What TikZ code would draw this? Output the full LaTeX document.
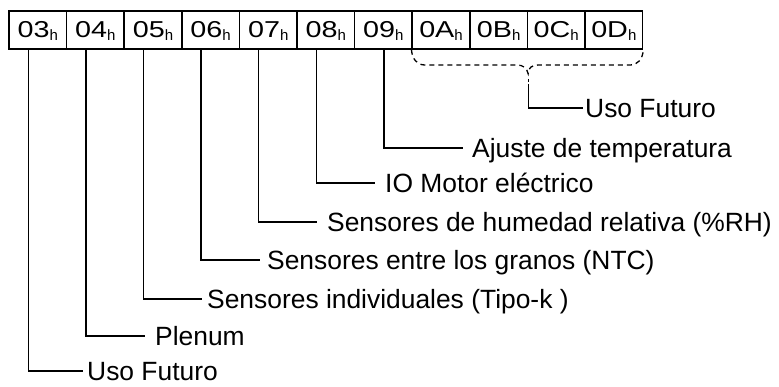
\documentclass[tikz,border=0pt]{standalone}
\usepackage{fontspec}
\setmainfont{Liberation Sans}
\newfontfamily\cellfont[FakeStretch=1.25]{Liberation Sans}
\newfontfamily\subfont{Liberation Sans}
\newcommand{\hexcell}[1]{{\cellfont\fontsize{23}{23}\selectfont #1}\raisebox{-3pt}{\subfont\fontsize{15}{15}\selectfont h}}
\begin{document}
\begin{tikzpicture}[x=1pt,y=-1pt,
  cell/.style={draw, line width=1.5pt, minimum width=57.6pt, minimum height=38pt, inner sep=0pt, text height=15.8pt, text depth=0pt},
  lbl/.style={anchor=west, inner ysep=0pt, font=\fontsize{26.4}{26.4}\selectfont, text height=19pt, text depth=0pt},
  conn/.style={line width=1.3pt},
  bracedash/.style={line width=1.3pt, dash pattern=on 5pt off 4pt}]
\useasboundingbox (0,0) rectangle (779,386);
\foreach \t [count=\i from 0] in {03,04,05,06,07,08,09,0A,0B,0C,0D}
  \node[cell] (b\t) at ({9+57.6*(\i+0.5)},30) {\hexcell{\t}};

\node[lbl, inner xsep=4pt]  (l03) at (83,371) {Uso Futuro};
\node[lbl, inner xsep=10pt] (l04) at (145,336) {Plenum};
\node[lbl, inner xsep=5pt]  (l05) at (202,299) {Sensores individuales (Tipo-k )};
\node[lbl, inner xsep=7pt]  (l06) at (260,260) {Sensores entre los granos (NTC)};
\node[lbl, inner xsep=10pt] (l07) at (317,222) {Sensores de humedad relativa (\%RH)};
\node[lbl, inner xsep=10pt] (l08) at (375,183) {IO Motor eléctrico};
\node[lbl, inner xsep=9pt]  (l09) at (463,148) {Ajuste de temperatura};
\node[lbl, inner xsep=2pt]  (lF)  at (583,108) {Uso Futuro};

\draw[conn] ([xshift=20pt]b03.south west) |- (l03.west);
\draw[conn] ([xshift=20pt]b04.south west) |- (l04.west);
\draw[conn] ([xshift=20pt]b05.south west) |- (l05.west);
\draw[conn] ([xshift=20pt]b06.south west) |- (l06.west);
\draw[conn] ([xshift=20pt]b07.south west) |- (l07.west);
\draw[conn] ([xshift=20pt]b08.south west) |- (l08.west);
\draw[conn] ([xshift=30pt]b09.south west) |- (l09.west);

\coordinate (tip) at ([yshift=-24pt]b0B.south east);
\draw[bracedash] (b0A.south west) .. controls (412.2,59) and (417,65) .. (425,65)
  -- (517,65) .. controls (523,65) and (527,68) .. (tip)
  .. controls (528,68) and (532,65) .. (538,65)
  -- (630,65) .. controls (638,65) and (642.6,59) .. (b0D.south east);
\draw[conn, dash pattern=on 0pt off 5pt on 3pt off 2pt on 200pt] (tip) |- (lF.west);
\end{tikzpicture}
\end{document}
